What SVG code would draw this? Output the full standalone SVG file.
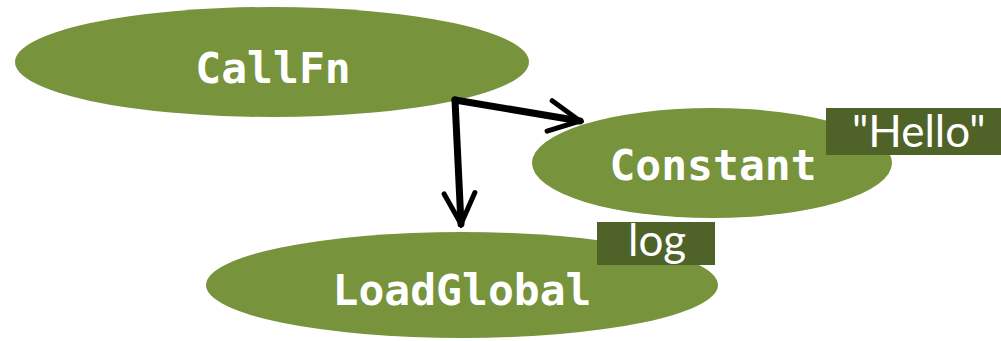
<svg xmlns="http://www.w3.org/2000/svg" width="1001" height="341" viewBox="0 0 1001 341">
  <style>
    .node { fill: #77933c; }
    .name { fill: #ffffff; font-family: "DejaVu Sans Mono", "Liberation Mono", monospace; font-weight: bold; font-size: 43px; text-anchor: middle; }
    .tag { fill: #4f6228; }
    .tagtext { fill: #ffffff; font-family: Lato, "Open Sans", sans-serif; font-size: 44px; }
    .edge { fill: none; stroke: #000000; stroke-width: 7; stroke-linecap: round; stroke-linejoin: miter; }
  </style>
  <defs>
    <marker id="chevron" viewBox="0 0 10 10" refX="9" refY="5" markerWidth="5.5" markerHeight="5.5" markerUnits="strokeWidth" orient="auto">
      <path d="M1,1 L9,5 L1,9" fill="none" stroke="#000000" stroke-width="1.3" stroke-linecap="round" stroke-linejoin="miter"/>
    </marker>
  </defs>

  <g id="node-callfn">
    <ellipse class="node" cx="272" cy="62" rx="257" ry="55"/>
    <text class="name" x="273" y="83">CallFn</text>
  </g>

  <g id="node-constant">
    <ellipse class="node" cx="712" cy="163" rx="180" ry="55"/>
    <text class="name" x="713" y="180">Constant</text>
    <rect class="tag" x="826" y="108" width="175" height="47"/>
    <text class="tagtext" x="852" y="147">"Hello"</text>
  </g>

  <g id="node-loadglobal">
    <ellipse class="node" cx="462" cy="285" rx="256" ry="53"/>
    <text class="name" x="462" y="305">LoadGlobal</text>
    <rect class="tag" x="597" y="222" width="118" height="43"/>
    <text class="tagtext" x="628" y="256">log</text>
  </g>

  <g id="connectors">
    <path class="edge" d="M455,100 L580,121" marker-end="url(#chevron)"/>
    <path class="edge" d="M455,100 L461,224" marker-end="url(#chevron)"/>
  </g>
</svg>
